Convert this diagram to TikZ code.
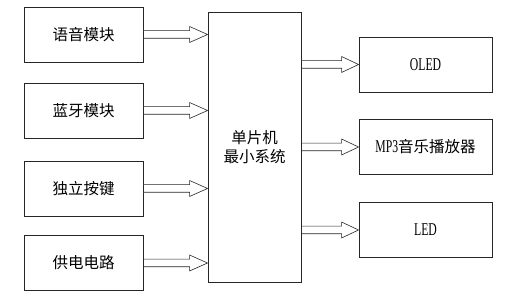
\documentclass[tikz,border=0pt]{standalone}
\usepackage{fontspec}
\setmainfont{Liberation Serif}
\newfontfamily\cjk{Noto Sans CJK SC}
\usetikzlibrary{calc}
\tikzset{
  box/.style={draw=black!85, line width=0.9pt, rectangle, inner sep=0pt, font=\cjk\fontsize{15.5}{18.5}\selectfont},
  lbox/.style={box, minimum width=119pt, minimum height=55pt},
  rbox/.style={box, minimum width=133pt, minimum height=55pt},
  blk/.style={draw=black!85, line width=0.6pt, fill=white, line join=miter},
}
\newcommand{\lat}[1]{{\fontspec{Liberation Serif}\fontsize{18}{18}\selectfont\scalebox{0.65}[1]{#1}}}
\begin{document}
\begin{tikzpicture}[x=1pt,y=-1pt]
\useasboundingbox (0,0) rectangle (512,304);
\node[lbox] (a) at (83.5,34.5) {语音模块};
\node[lbox] (b) at (83.5,110.5) {蓝牙模块};
\node[lbox] (c) at (83.5,188.5) {独立按键};
\node[lbox] (d) at (83.5,263) {供电电路};
\node[box, minimum width=93pt, minimum height=270pt, align=center] (m) at (254.5,147) {单片机\\最小系统};
\node[rbox] (o) at (425.5,64.5) {\lat{OLED}};
\node[rbox] (p) at (425.5,147) {\lat{MP3}音乐播放器};
\node[rbox] (l) at (425.5,230) {\lat{LED}};
\foreach \s/\t in {a/m,b/m,c/m,d/m}{
  \draw[blk] ($(\s.east)+(0,-3.8)$) -- ($(\s.east -| \t.west)+(-18,-3.8)$) -- ($(\s.east -| \t.west)+(-18,-8)$)
    -- (\s.east -| \t.west) -- ($(\s.east -| \t.west)+(-18,8)$) -- ($(\s.east -| \t.west)+(-18,3.8)$)
    -- ($(\s.east)+(0,3.8)$) -- cycle;
}
\foreach \t in {o,p,l}{
  \draw[blk] ($(\t.west -| m.east)+(0,-3.8)$) -- ($(\t.west)+(-17,-3.8)$) -- ($(\t.west)+(-17,-8)$)
    -- (\t.west) -- ($(\t.west)+(-17,8)$) -- ($(\t.west)+(-17,3.8)$)
    -- ($(\t.west -| m.east)+(0,3.8)$) -- cycle;
}
\end{tikzpicture}
\end{document}
